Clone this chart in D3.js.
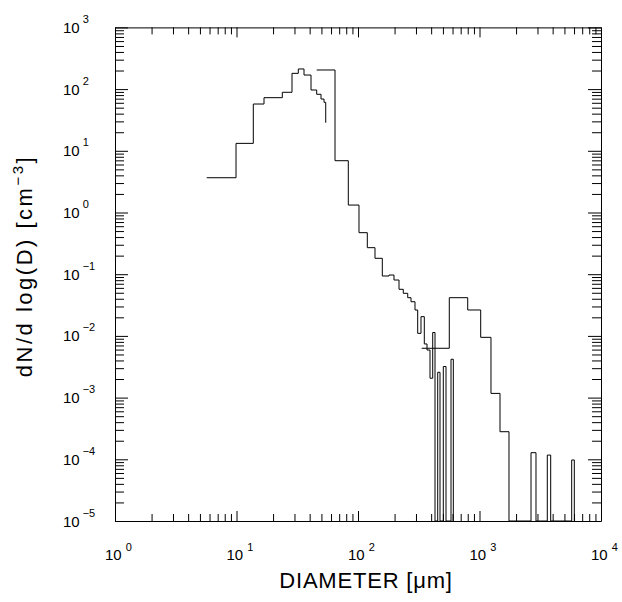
<!DOCTYPE html>
<html>
<head>
<meta charset="utf-8">
<script src="https://cdn.jsdelivr.net/npm/d3@7"></script>
<style>
html, body { margin: 0; padding: 0; background: #fff; }
svg { display: block; }
text { font-family: "Liberation Sans", Arial, Helvetica, sans-serif; fill: #000; }
</style>
</head>
<body>
<svg id="chart" width="622" height="602"></svg>
<script>
// Particle size distribution from three probes.
// Edges are bin boundaries in µm; each level (dN/dlogD, cm^-3) holds from its
// edge up to the next edge, and the last level is where the trace ends.
const smallEdges  = [5.69, 9.91, 13.75, 16.84, 23.82, 28.63, 32.26, 35.94, 41.04, 45.72, 49.61, 52.52, 54.24];
const smallLevels = [3.66, 13.2, 57.3, 72.6, 88.8, 180, 212, 169, 96.7, 82.4, 69, 61, 28.5];

const midEdges  = [45.72, 64.68, 83.21, 101.9, 119.3, 138.0, 158.5, 179.9, 197.8, 217.5, 235.9, 256.6, 273.1,
                   294.5, 310.0, 330.0, 351.3, 369.8, 391.4, 412.0, 430.3, 452.9, 473.1, 503.6, 530.0, 582.8, 608.8];
const midLevels = [204, 6.91, 1.32, 0.471, 0.269, 0.181, 0.0935, 0.097, 0.0805, 0.0569, 0.049, 0.0416, 0.0358,
                   0.0263, 0.0110, 0.0205, 0.0074, 0.0059, 0.00206, 0.01135, 0, 0.00257, 0, 0.00319, 0, 0.00418, 0];

const largeEdges  = [334.4, 564.1, 799.7, 1023, 1243, 1475, 1749, 2654, 2917, 3614, 3855, 5739, 6029];
const largeLevels = [0.0063, 0.0416, 0.0263, 0.00948, 0.00117, 0.00028, 0, 1.28e-4, 0, 1.17e-4, 0, 9.75e-5, 0];

// Axis decades (powers of ten) that carry labels
const xDecades = [0, 1, 2, 3, 4];
const yDecades = [-5, -4, -3, -2, -1, 0, 1, 2, 3];

const svg = d3.select("#chart");
const plotL = 115, plotR = 601, plotT = 27.4, plotB = 521;

const x = d3.scaleLog().domain([1, 1e4]).range([plotL, plotR]);
const y = d3.scaleLog().domain([1e-5, 1e3]).range([plotB, plotT]);

// major and minor tick positions
function decadeTicks(decs) {
  const major = decs.map(k => Math.pow(10, k));
  const minor = [];
  for (let i = 0; i < decs.length - 1; i++)
    for (let m = 2; m <= 9; m++) minor.push(m * Math.pow(10, decs[i]));
  return { major, minor };
}
const xt = decadeTicks(xDecades);
const yt = decadeTicks(yDecades);

const W = plotR - plotL, H = plotB - plotT;
const xMaj = 10, xMin = 7, yMaj = 13, yMin = 9;

function styleAxis(g) {
  g.selectAll("path.domain").attr("stroke", "#000").attr("stroke-width", 1);
  g.selectAll("line").attr("stroke", "#000").attr("stroke-width", 1);
}

// frame sides with inward ticks
const axes = svg.append("g");
[
  [() => d3.axisBottom(x), `translate(0,${plotB})`, xt, -xMaj, -xMin],
  [() => d3.axisTop(x), `translate(0,${plotT})`, xt, -xMaj, -xMin],
  [() => d3.axisLeft(y), `translate(${plotL},0)`, yt, -yMaj, -yMin],
  [() => d3.axisRight(y), `translate(${plotR},0)`, yt, -yMaj, -yMin]
].forEach(([mk, tr, t, maj, min]) => {
  axes.append("g").attr("transform", tr)
    .call(mk().tickValues(t.major).tickSizeInner(maj).tickSizeOuter(0).tickFormat(""))
    .call(styleAxis);
  axes.append("g").attr("transform", tr)
    .call(mk().tickValues(t.minor).tickSizeInner(min).tickSizeOuter(0).tickFormat(""))
    .call(g => g.select("path.domain").remove())
    .call(styleAxis);
});

const expText = k => (k < 0 ? "\u2212" : "") + Math.abs(k);

// x tick labels
const xl = svg.append("g").selectAll("text").data(xDecades).join("text")
  .attr("x", k => x(Math.pow(10, k)) - 10)
  .attr("y", 560)
  .attr("font-size", 15);
xl.append("tspan").text("10");
xl.append("tspan").attr("dx", 4).attr("dy", -9).attr("font-size", 11).text(expText);

// y tick labels
const yl = svg.append("g").selectAll("text").data(yDecades).join("text")
  .attr("x", 63)
  .attr("y", k => y(Math.pow(10, k)) + 5.5)
  .attr("font-size", 15);
yl.append("tspan").text("10");
yl.append("tspan").attr("dx", 3).attr("dy", -10).attr("font-size", 11).text(expText);

// histogram traces
svg.append("clipPath").attr("id", "plotArea")
  .append("rect").attr("x", plotL).attr("y", plotT).attr("width", W).attr("height", H);

const line = d3.line()
  .x(d => x(d[0]))
  .y(d => d[1] > 0 ? y(d[1]) : y(1e-5))
  .curve(d3.curveStepAfter);

[[smallEdges, smallLevels], [midEdges, midLevels], [largeEdges, largeLevels]].forEach(([e, v]) => {
  svg.append("path")
    .attr("clip-path", "url(#plotArea)")
    .attr("fill", "none")
    .attr("stroke", "#000")
    .attr("stroke-width", 1)
    .attr("d", line(e.map((d, i) => [d, v[i]])));
});

// axis titles
svg.append("text")
  .attr("x", 366).attr("y", 588)
  .attr("text-anchor", "middle")
  .attr("font-size", 22)
  .attr("letter-spacing", 0.8)
  .text("DIAMETER [\u03bcm]");

const ytl = svg.append("text")
  .attr("transform", "translate(32,266) rotate(-90)")
  .attr("text-anchor", "middle")
  .attr("font-size", 22)
  .attr("letter-spacing", 2.5);
ytl.append("tspan").text("dN/d  log(D)  [cm");
ytl.append("tspan").attr("dy", -9).attr("font-size", 15).text("\u22123");
ytl.append("tspan").attr("dy", 9).text("]");
</script>
</body>
</html>
